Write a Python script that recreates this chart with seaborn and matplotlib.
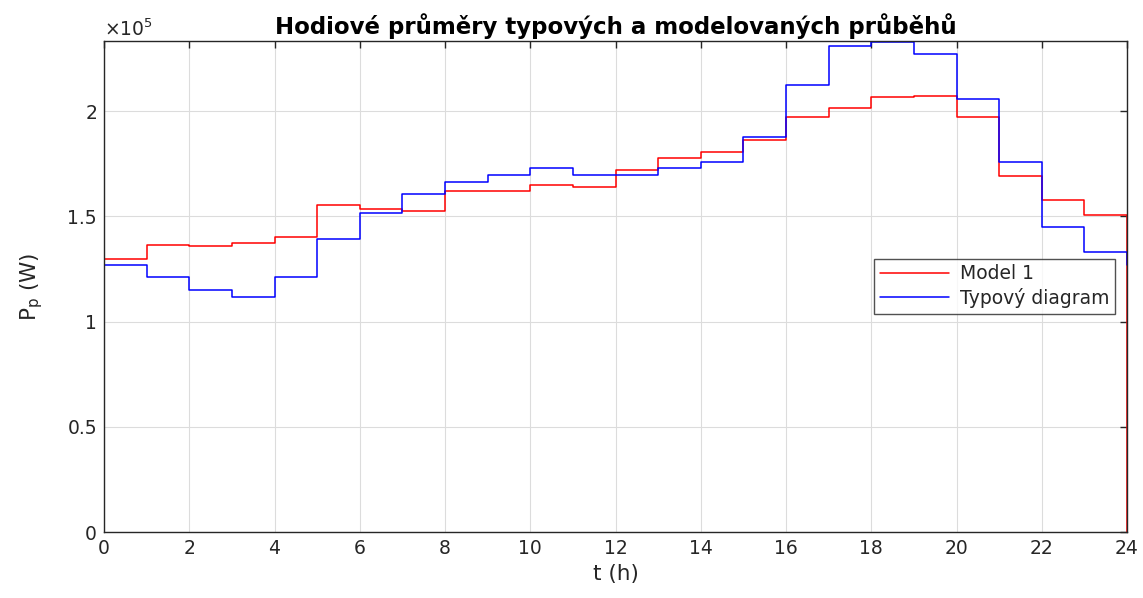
import numpy as np
import pandas as pd
import matplotlib
matplotlib.use("Agg")
import matplotlib.pyplot as plt
from matplotlib.ticker import FuncFormatter
import seaborn as sns

hours = list(range(25))
model1 = [1.300, 1.363, 1.359, 1.376, 1.400, 1.553, 1.533, 1.525, 1.620, 1.620,
          1.647, 1.642, 1.721, 1.778, 1.807, 1.862, 1.973, 2.013, 2.065, 2.071,
          1.973, 1.690, 1.576, 1.509, 0.0]
typovy = [1.270, 1.213, 1.151, 1.118, 1.213, 1.395, 1.514, 1.607, 1.664, 1.696,
          1.729, 1.696, 1.696, 1.729, 1.759, 1.878, 2.125, 2.307, 2.330, 2.272,
          2.060, 1.758, 1.452, 1.332, 1.270]
scale = 1e5

df = pd.concat([
    pd.DataFrame({"t": hours, "P": np.array(model1) * scale, "serie": "Model 1"}),
    pd.DataFrame({"t": hours, "P": np.array(typovy) * scale, "serie": "Typový diagram"}),
])

sns.set_theme(style="white")
plt.rcParams['font.family'] = ['DejaVu Sans']

fig = plt.figure(figsize=(11.43, 5.98), dpi=100)
ax = fig.add_axes([0.091, 0.110, 0.895, 0.8214])

sns.lineplot(data=df, x="t", y="P", hue="serie",
             palette={"Model 1": "#ff0000", "Typový diagram": "#0000ff"},
             drawstyle="steps-post", linewidth=1.1, ax=ax, sort=False,
             estimator=None)

ax.set_xlim(0, 24)
ax.set_ylim(0, 2.333e5)
ax.set_xticks(range(0, 25, 2))
ax.set_yticks([0, 0.5e5, 1e5, 1.5e5, 2e5])
ax.yaxis.set_major_formatter(FuncFormatter(lambda v, p: f"{v/scale:g}"))
ax.grid(True, color="#dcdcdc", linewidth=0.8)
for s in ax.spines.values():
    s.set_color("#262626")
    s.set_linewidth(1.0)
ax.tick_params(direction="in", top=True, right=True, length=5, width=1,
               color="#262626", labelsize=13.5, labelcolor="#262626", pad=5)
ax.set_xlabel("t (h)", fontsize=15.5, color="#262626", labelpad=4)
ax.set_ylabel("P$_\\mathregular{p}$ (W)", fontsize=15.5, color="#262626", labelpad=16)
ax.set_title("Hodiové průměry typových a modelovaných průběhů",
             fontsize=16.5, fontweight="bold", color="black", pad=5)
ax.text(0.0, 1.003, "×10$^\\mathregular{5}$", transform=ax.transAxes,
        fontsize=13.5, color="#262626", ha="left", va="bottom")

leg = ax.legend(loc="upper right", bbox_to_anchor=(0.988, 0.557),
                borderaxespad=0, fontsize=13.5, frameon=True, fancybox=False,
                handlelength=3.7, handletextpad=0.55, borderpad=0.3,
                labelspacing=0.25, title=None)
leg.get_frame().set_edgecolor("#262626")
leg.get_frame().set_linewidth(1.0)
for t in leg.get_texts():
    t.set_color("#262626")

fig.savefig("out.png", dpi=100, facecolor="white")
